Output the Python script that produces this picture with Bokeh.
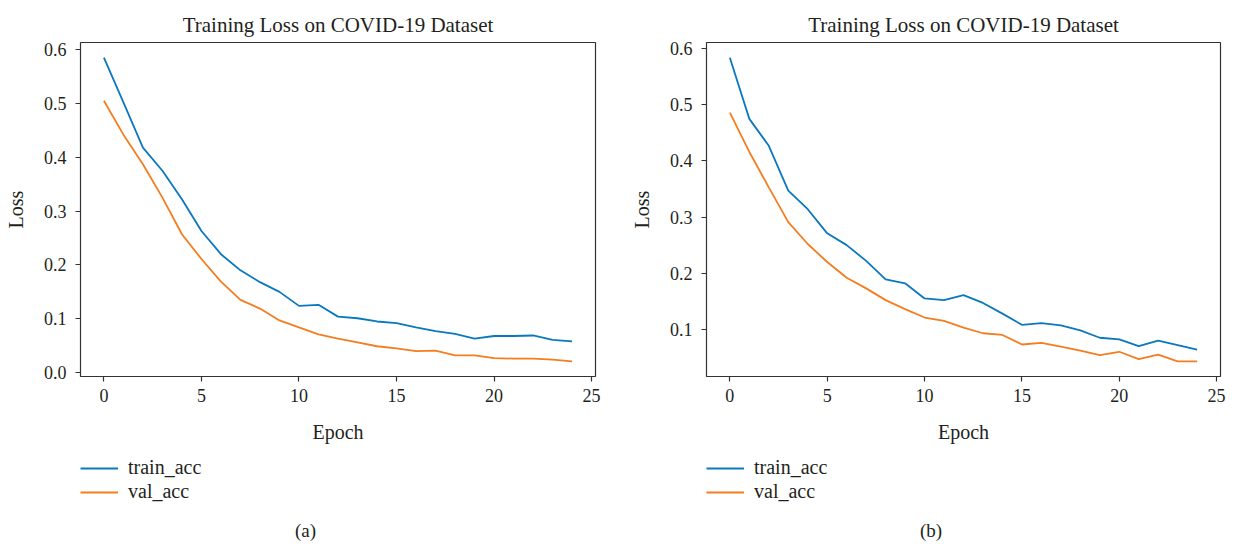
from bokeh.plotting import figure
from bokeh.layouts import row, column
from bokeh.models import (Range1d, Legend, LegendItem, FixedTicker, Label,
                          NumeralTickFormatter)
from bokeh.embed import file_html
from bokeh.resources import INLINE

epochs = list(range(25))

train_a = [0.585, 0.502, 0.418, 0.375, 0.322, 0.263, 0.220, 0.190, 0.168, 0.150,
           0.124, 0.126, 0.104, 0.101, 0.095, 0.092, 0.084, 0.077, 0.072, 0.063,
           0.068, 0.068, 0.069, 0.061, 0.058]
val_a = [0.505, 0.442, 0.387, 0.325, 0.257, 0.211, 0.169, 0.135, 0.119, 0.097,
         0.084, 0.071, 0.063, 0.056, 0.049, 0.045, 0.040, 0.041, 0.032, 0.032,
         0.027, 0.026, 0.026, 0.024, 0.021]

train_b = [0.584, 0.475, 0.427, 0.347, 0.314, 0.271, 0.250, 0.222, 0.189, 0.182,
           0.155, 0.152, 0.161, 0.147, 0.128, 0.108, 0.111, 0.107, 0.098, 0.085,
           0.082, 0.070, 0.080, 0.072, 0.064]
val_b = [0.486, 0.416, 0.353, 0.291, 0.252, 0.220, 0.192, 0.173, 0.152, 0.136,
         0.121, 0.115, 0.103, 0.093, 0.090, 0.073, 0.076, 0.069, 0.062, 0.054,
         0.060, 0.047, 0.055, 0.043, 0.043]

x_ticks = [0, 5, 10, 15, 20, 25]
y_ticks_a = [0.0, 0.1, 0.2, 0.3, 0.4, 0.5, 0.6]
y_ticks_b = [0.1, 0.2, 0.3, 0.4, 0.5, 0.6]

title_text = "Training Loss on COVID-19 Dataset"
series_names = ["train_acc", "val_acc"]
captions = ["(a)", "(b)"]

BLUE = "#0a78bf"
ORANGE = "#f47d20"
TEXT = "#231f20"
SPINE = "#333333"
FONT = "Liberation Serif"


def style_axis(ax):
    ax.major_label_text_font = FONT
    ax.major_label_text_font_size = "18px"
    ax.major_label_text_color = TEXT
    ax.axis_label_text_font = FONT
    ax.axis_label_text_font_size = "20px"
    ax.axis_label_text_font_style = "normal"
    ax.axis_label_text_color = TEXT
    ax.axis_line_color = None
    ax.major_tick_line_color = SPINE
    ax.major_tick_line_width = 1.2
    ax.major_tick_out = 5
    ax.major_tick_in = 0
    ax.minor_tick_line_color = None


def make_panel(train, val, yticks, caption, width, bl, br):
    lo = min(min(train), min(val))
    hi = max(max(train), max(val))
    pad = (hi - lo) * 0.05
    p = figure(width=width, height=448, output_backend="svg", toolbar_location=None,
               x_range=Range1d(-1.2, 25.2), y_range=Range1d(lo - pad, hi + pad),
               min_border_left=bl, min_border_right=br, min_border_top=42,
               min_border_bottom=72)
    p.xgrid.visible = False
    p.ygrid.visible = False
    p.outline_line_color = SPINE
    p.outline_line_width = 1.2
    p.outline_line_alpha = 1.0
    p.background_fill_color = "white"
    p.border_fill_color = "white"

    style_axis(p.xaxis[0])
    style_axis(p.yaxis[0])
    p.xaxis[0].ticker = FixedTicker(ticks=x_ticks)
    p.yaxis[0].ticker = FixedTicker(ticks=yticks)
    p.yaxis[0].formatter = NumeralTickFormatter(format="0.0")
    p.xaxis[0].axis_label = "Epoch"
    p.yaxis[0].axis_label = "Loss"
    p.xaxis[0].major_label_standoff = 7
    p.xaxis[0].axis_label_standoff = 16
    p.yaxis[0].major_label_standoff = 9
    p.yaxis[0].axis_label_standoff = 14

    p.line(epochs, train, line_color=BLUE, line_width=1.8)
    p.line(epochs, val, line_color=ORANGE, line_width=1.8)

    p.title.text = title_text
    p.title.text_font = FONT
    p.title.text_font_size = "21px"
    p.title.text_font_style = "normal"
    p.title.text_color = TEXT
    p.title.align = "center"
    p.title.offset = 0
    p.title.standoff = 11

    # legend + caption strip below the chart
    q = figure(width=width, height=96, output_backend="svg", toolbar_location=None,
               x_range=Range1d(0, 1), y_range=Range1d(0, 96),
               x_axis_location=None, y_axis_location=None,
               min_border_left=bl, min_border_right=br, min_border_top=0,
               min_border_bottom=0)
    q.xgrid.visible = False
    q.ygrid.visible = False
    q.outline_line_color = None
    q.background_fill_color = "white"
    q.border_fill_color = "white"
    nan = float("nan")
    k1 = q.line([nan], [nan], line_color=BLUE, line_width=1.8)
    k2 = q.line([nan], [nan], line_color=ORANGE, line_width=1.8)
    legend = Legend(items=[LegendItem(label=series_names[0], renderers=[k1]),
                           LegendItem(label=series_names[1], renderers=[k2])],
                    location=(0, 41), orientation="vertical",
                    border_line_color=None, background_fill_alpha=0,
                    label_text_font=FONT, label_text_font_size="20px",
                    label_text_color=TEXT, glyph_width=38, glyph_height=20,
                    label_standoff=10, spacing=1, padding=0, margin=0)
    q.add_layout(legend, "center")
    q.add_layout(Label(x=0.437, y=14, text=caption, text_align="center",
                       text_baseline="middle", text_font=FONT,
                       text_font_size="19px", text_color=TEXT))
    return column(p, q, spacing=0)


p1 = make_panel(train_a, val_a, y_ticks_a, captions[0], 620, 80, 25)
p2 = make_panel(train_b, val_b, y_ticks_b, captions[1], 614, 86, 14)

layout = row(p1, p2, spacing=0)
open("out.html", "w").write(file_html(layout, INLINE))
